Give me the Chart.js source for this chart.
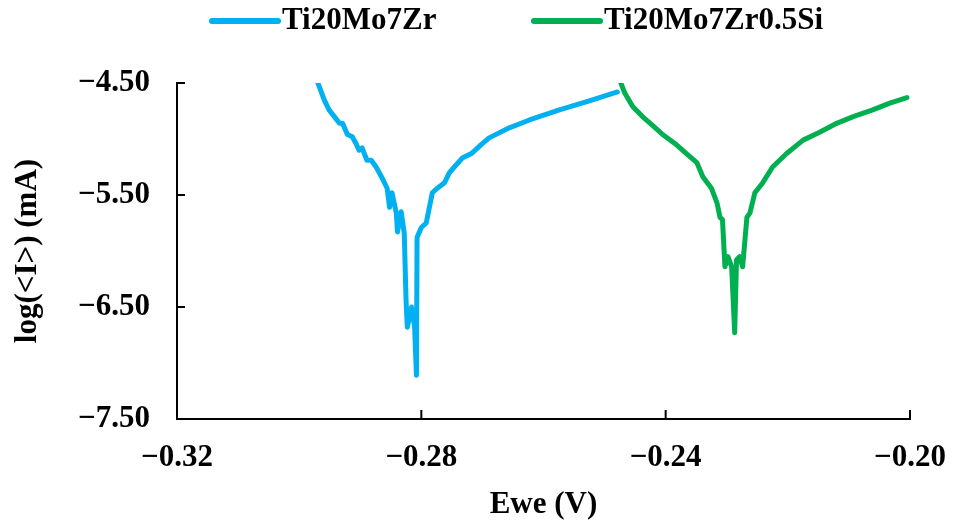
<!DOCTYPE html>
<html>
<head>
<meta charset="utf-8">
<title>Tafel curves</title>
<script src="https://cdn.jsdelivr.net/npm/chart.js@4/dist/chart.umd.min.js"></script>
<style>
    html, body { margin: 0; padding: 0; background: #fff; }
    canvas { display: block; }
</style>
</head>
<body>
<canvas id="tafel" width="953" height="524"></canvas>
<script>
// series: potential (V) and log current (mA)
var seriesNames = ['Ti20Mo7Zr', 'Ti20Mo7Zr0.5Si'];

var ewePlain = [-0.2970, -0.2959, -0.2951, -0.2934, -0.2929, -0.2921, -0.2913, -0.2907, -0.2902, -0.2897,
    -0.2889, -0.2882, -0.2874, -0.2864, -0.2856, -0.2852, -0.2848, -0.2841, -0.2839, -0.2833,
    -0.2828, -0.2825, -0.2823, -0.2816, -0.2811, -0.2808, -0.2807, -0.2800, -0.2792, -0.2782,
    -0.2774, -0.2762, -0.2754, -0.2746, -0.2733, -0.2718, -0.2702, -0.2689, -0.2656, -0.2623,
    -0.2574, -0.2525, -0.2479];
var logPlain = [-4.49, -4.65, -4.74, -4.86, -4.86, -4.96, -4.98, -5.04, -5.10, -5.08,
    -5.19, -5.19, -5.25, -5.35, -5.44, -5.61, -5.48, -5.66, -5.83, -5.65,
    -5.84, -6.44, -6.68, -6.50, -6.68, -7.11, -5.88, -5.79, -5.75, -5.48,
    -5.44, -5.39, -5.30, -5.25, -5.17, -5.13, -5.05, -4.99, -4.90, -4.83,
    -4.74, -4.66, -4.58];

var eweSi = [-0.2474, -0.2467, -0.2454, -0.2438, -0.2421, -0.2405, -0.2385, -0.2366, -0.2349, -0.2339,
    -0.2325, -0.2316, -0.2311, -0.2307, -0.2303, -0.2298, -0.2292, -0.2287, -0.2284, -0.2279,
    -0.2274, -0.2267, -0.2262, -0.2254, -0.2241, -0.2225, -0.2202, -0.2175, -0.2148, -0.2120,
    -0.2093, -0.2061, -0.2033, -0.2005];
var logSi = [-4.49, -4.59, -4.71, -4.80, -4.88, -4.96, -5.04, -5.13, -5.21, -5.34,
    -5.44, -5.57, -5.70, -5.72, -6.14, -6.05, -6.14, -6.73, -6.08, -6.05,
    -6.14, -5.70, -5.66, -5.48, -5.39, -5.25, -5.13, -5.01, -4.94, -4.86,
    -4.80, -4.74, -4.68, -4.63];

// tick values
var xTicks = [-0.32, -0.28, -0.24, -0.20];
var yTicks = [-7.50, -6.50, -5.50, -4.50];

;(function (document, window) {
    'use strict';

    var FONT = 'bold 31px "Liberation Serif", "Times New Roman", serif';
    var colors = ['#00B0F0', '#00B050'];

    function pairs(xs, ys) {
        return xs.map(function (x, i) {
            return {x: x, y: ys[i]};
        });
    }

    function minusLabel(v) {
        return Number(v).toFixed(2).replace('-', '\u2212');
    }

    function fixedTicks(list) {
        return function (scale) {
            scale.ticks = list.map(function (v) {
                return {value: v};
            });
        };
    }

    /**
     * Short tick marks pointing into the plot, Excel style.
     */
    var innerTicks = {
        id: 'innerTicks',
        afterDraw: function (chart) {
            var ctx = chart.ctx;
            var area = chart.chartArea;
            var x = chart.scales.x;
            var y = chart.scales.y;

            ctx.save();
            ctx.strokeStyle = '#000';
            ctx.lineWidth = 2;
            ctx.beginPath();
            xTicks.forEach(function (v) {
                var px = x.getPixelForValue(v);
                ctx.moveTo(px, area.bottom);
                ctx.lineTo(px, area.bottom - 9);
            });
            yTicks.forEach(function (v) {
                var py = y.getPixelForValue(v);
                ctx.moveTo(area.left, py);
                ctx.lineTo(area.left + 8, py);
            });
            ctx.stroke();
            ctx.restore();
        }
    };

    /**
     * Legend row above the plot.
     */
    var topLegend = {
        id: 'topLegend',
        afterDraw: function (chart) {
            var ctx = chart.ctx;
            var starts = [212, 534];

            ctx.save();
            ctx.font = FONT;
            ctx.textBaseline = 'middle';
            ctx.textAlign = 'left';
            chart.data.datasets.forEach(function (ds, i) {
                var x0 = starts[i];
                ctx.strokeStyle = ds.borderColor;
                ctx.lineWidth = 6;
                ctx.lineCap = 'round';
                ctx.beginPath();
                ctx.moveTo(x0, 21);
                ctx.lineTo(x0 + 66, 21);
                ctx.stroke();
                ctx.fillStyle = '#000';
                ctx.fillText(ds.label, x0 + 70, 21);
            });
            ctx.restore();
        }
    };

    var datasets = [pairs(ewePlain, logPlain), pairs(eweSi, logSi)].map(function (d, i) {
        return {
            label: seriesNames[i],
            data: d,
            borderColor: colors[i],
            backgroundColor: colors[i],
            borderWidth: 5,
            borderCapStyle: 'round',
            borderJoinStyle: 'round',
            pointRadius: 0,
            tension: 0
        };
    });

    var font = {family: '"Liberation Serif", "Times New Roman", serif', size: 31, weight: 'bold'};

    new Chart(document.getElementById('tafel'), {
        type: 'line',
        data: {datasets: datasets},
        plugins: [innerTicks, topLegend],
        options: {
            responsive: false,
            animation: false,
            layout: {padding: {top: 83, right: 43, left: 0, bottom: 0}},
            plugins: {
                legend: {display: false},
                tooltip: {enabled: false}
            },
            scales: {
                x: {
                    type: 'linear',
                    min: -0.32,
                    max: -0.20,
                    afterBuildTicks: fixedTicks(xTicks),
                    afterFit: function (scale) {
                        scale.height = 105;
                        scale.paddingLeft = 0;
                        scale.paddingRight = 0;
                    },
                    grid: {display: false, drawTicks: false},
                    border: {display: true, color: '#000', width: 2},
                    ticks: {
                        color: '#000',
                        font: font,
                        padding: 20,
                        maxRotation: 0,
                        callback: minusLabel
                    },
                    title: {
                        display: true,
                        text: 'Ewe (V)',
                        color: '#000',
                        font: font,
                        padding: {top: 0, bottom: 0}
                    }
                },
                y: {
                    type: 'linear',
                    min: -7.5,
                    max: -4.5,
                    afterBuildTicks: fixedTicks(yTicks),
                    afterFit: function (scale) {
                        scale.width = 177;
                        scale.paddingTop = 0;
                        scale.paddingBottom = 0;
                    },
                    grid: {display: false, drawTicks: false},
                    border: {display: true, color: '#000', width: 2},
                    ticks: {
                        color: '#000',
                        font: font,
                        padding: 27,
                        callback: minusLabel
                    },
                    title: {
                        display: true,
                        text: 'log(<I>) (mA)',
                        color: '#000',
                        font: font,
                        padding: {top: 9, bottom: 0}
                    }
                }
            }
        }
    });

})(document, window);
</script>
</body>
</html>
